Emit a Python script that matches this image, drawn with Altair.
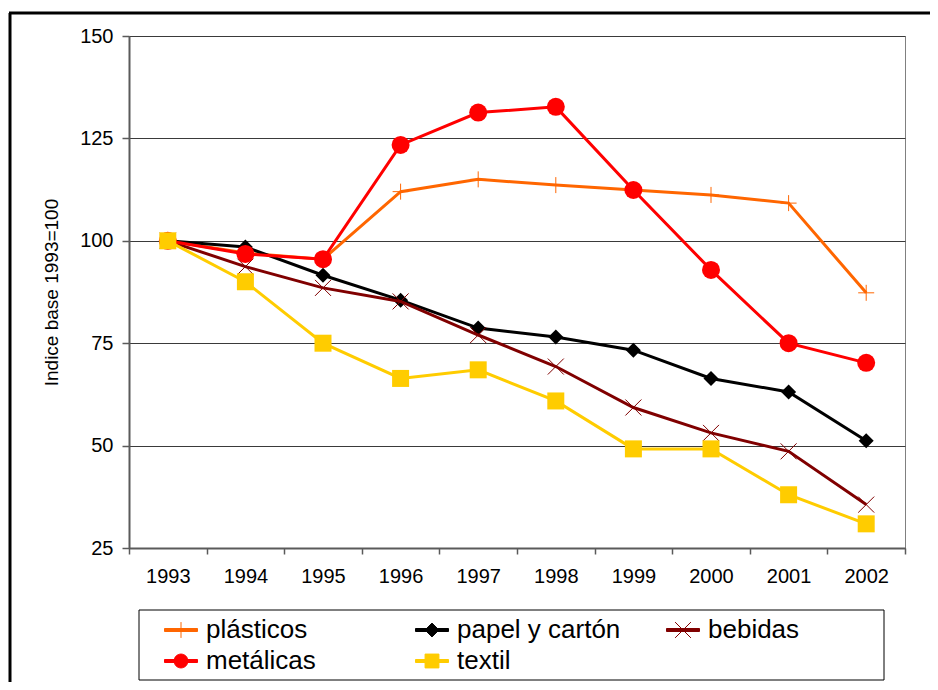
import altair as alt
import pandas as pd

# ---- data ----
years = ["1993", "1994", "1995", "1996", "1997", "1998", "1999", "2000", "2001", "2002"]
plasticos = [100, 97.0, 95.5, 112.0, 115.0, 113.6, 112.4, 111.2, 109.2, 87.3]
papel = [100, 98.5, 91.6, 85.5, 78.7, 76.5, 73.3, 66.4, 63.1, 51.2]
bebidas = [100, 93.7, 88.5, 85.2, 77.0, 69.3, 59.3, 53.1, 48.6, 35.6]
metalicas = [100, 96.8, 95.5, 123.4, 131.3, 132.7, 112.4, 92.9, 75.0, 70.2]
textil = [100, 90.0, 75.0, 66.4, 68.5, 60.9, 49.2, 49.2, 38.0, 30.9]
y_ticks = [25, 50, 75, 100, 125, 150]

series_names = ["plásticos", "papel y cartón", "bebidas", "metálicas", "textil"]
series_values = [plasticos, papel, bebidas, metalicas, textil]

rows = []
for name, vals in zip(series_names, series_values):
    for yr, v in zip(years, vals):
        rows.append({"anio": yr, "serie": name, "valor": v})
df = pd.DataFrame(rows)
df_series = pd.DataFrame({"serie": series_names})

# ---- styles ----
colors = {
    "plásticos": "#FF6600",
    "papel y cartón": "#000000",
    "bebidas": "#800000",
    "metálicas": "#FF0000",
    "textil": "#FFCC00",
}
marker_shape = {
    "plásticos": "M-1,0H1M0,-1V1",
    "papel y cartón": "diamond",
    "bebidas": "M-1,-1L1,1M-1,1L1,-1",
    "metálicas": "circle",
    "textil": "square",
}
marker_size = {"plásticos": 256, "papel y cartón": 225, "bebidas": 256, "metálicas": 324, "textil": 289}
marker_filled = {"plásticos": False, "papel y cartón": True, "bebidas": False, "metálicas": True, "textil": True}

bar = "M-1,-0.09H1V0.09H-1Z"
legend_paths = [
    bar + "M0,-0.48V0.48",
    bar + "M0,-0.42L0.42,0L0,0.42L-0.42,0Z",
    bar + "M-0.48,-0.48L0.48,0.48M-0.48,0.48L0.48,-0.48",
    bar + "M0.42,0A0.42,0.42,0,1,1,-0.42,0A0.42,0.42,0,1,1,0.42,0Z",
    bar + "M-0.42,-0.42H0.42V0.42H-0.42Z",
]

FONT = "Liberation Sans"

x_enc = alt.X(
    "anio:O",
    scale=alt.Scale(type="band", paddingInner=0, paddingOuter=0),
    bandPosition=0.5,
    axis=alt.Axis(
        title=None, tickBand="extent", labelAngle=0, grid=False,
        labelPadding=12, tickSize=6, domainWidth=2,
    ),
)
y_enc = alt.Y(
    "valor:Q",
    scale=alt.Scale(domain=[25, 150], nice=False, zero=False),
    axis=alt.Axis(
        values=y_ticks, title="Indice base 1993=100", grid=True,
        gridColor="#3a3a3a", gridWidth=1, labelPadding=9, tickSize=7,
        titlePadding=18, domainWidth=2,
    ),
)

layers = []
for name in series_names:
    base = alt.Chart(df).transform_filter(alt.datum.serie == name)
    layers.append(base.mark_line(color=colors[name], strokeWidth=3).encode(x=x_enc, y=y_enc))
    layers.append(
        base.mark_point(
            shape=marker_shape[name], size=marker_size[name], filled=marker_filled[name],
            color=colors[name], opacity=1, strokeWidth=1,
        ).encode(x=x_enc, y=y_enc)
    )

leg = alt.Legend(
    title=None, orient="none", legendX=35, legendY=577, columns=3, direction="horizontal",
    gridAlign="all", columnPadding=43, rowPadding=1, padding=0, symbolSize=1089,
    symbolStrokeWidth=1, labelFont=FONT, labelFontSize=26, labelColor="#000000",
    labelOffset=8, labelLimit=400,
)
color_range = [colors[n] for n in series_names]
legend_layer = (
    alt.Chart(df_series)
    .transform_filter("false")
    .mark_point(filled=True, opacity=1, strokeWidth=1)
    .encode(
        shape=alt.Shape("serie:N", scale=alt.Scale(domain=series_names, range=legend_paths), legend=leg),
        fill=alt.Fill("serie:N", scale=alt.Scale(domain=series_names, range=color_range), legend=leg),
        stroke=alt.Stroke("serie:N", scale=alt.Scale(domain=series_names, range=color_range), legend=leg),
    )
)

one = alt.Data(values=[{"k": 1}])
frame_left = alt.Chart(one).mark_rule(color="black", strokeWidth=3).encode(
    x=alt.value(-119), y=alt.value(-23), y2=alt.value(646)
)
frame_top = alt.Chart(one).mark_rule(color="black", strokeWidth=3).encode(
    x=alt.value(-120), x2=alt.value(801), y=alt.value(-23)
)
legend_box = alt.Chart(one).mark_rect(fill="white", stroke="black", strokeWidth=1).encode(
    x=alt.value(10), x2=alt.value(755), y=alt.value(574), y2=alt.value(644)
)

chart = (
    alt.layer(frame_left, frame_top, legend_box, *layers, legend_layer)
    .properties(
        width=776, height=512,
        autosize=alt.AutoSizeParams(type="none"),
        padding={"left": 121, "top": 28, "right": 25, "bottom": 134},
        background="white",
    )
    .configure_view(stroke="#808080", strokeWidth=1)
    .configure_axis(
        labelFont=FONT, titleFont=FONT, labelFontSize=20, titleFontSize=19,
        labelColor="#000000", titleColor="#000000", titleFontWeight="normal",
        domainColor="#5a5a5a", tickColor="#5a5a5a", tickWidth=1.5,
    )
)

chart.save("out.html", embed_options={"renderer": "svg", "actions": False})
